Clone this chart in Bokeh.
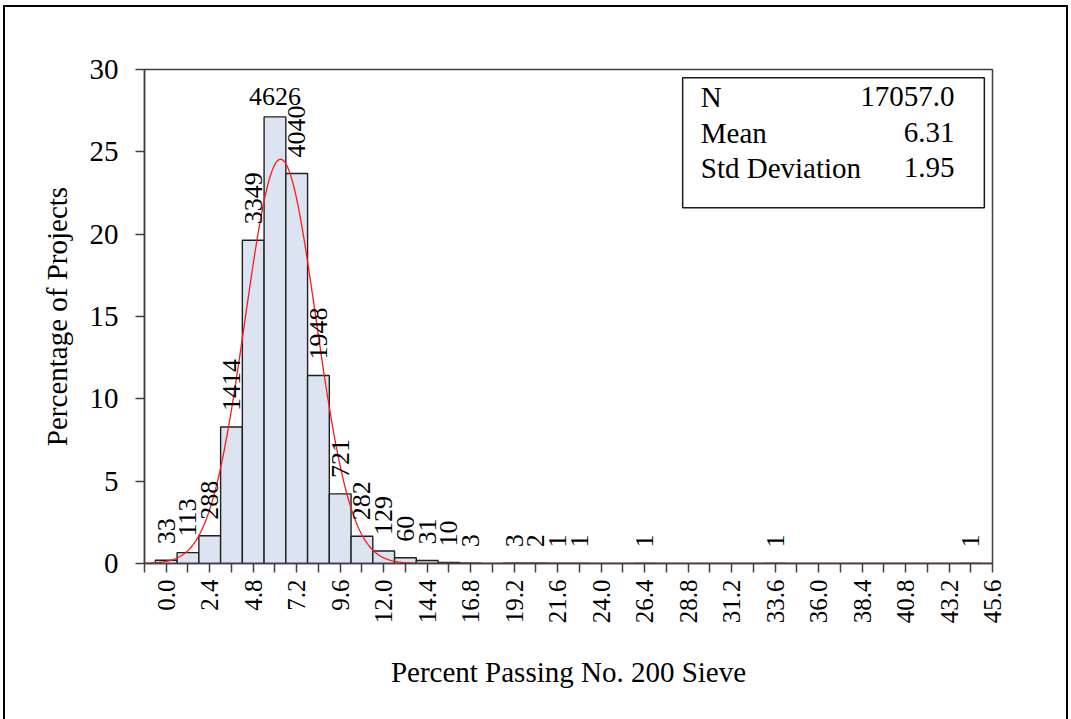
import math

import numpy as np
from bokeh.core.properties import value
from bokeh.embed import file_html
from bokeh.models import BoxAnnotation, ColumnDataSource, FixedTicker, Label, Range1d
from bokeh.plotting import figure
from bokeh.resources import INLINE

# Histogram of percent passing the No. 200 sieve (bin width 1.2)
BIN_CENTERS = [0.0, 1.2, 2.4, 3.6, 4.8, 6.0, 7.2, 8.4, 9.6, 10.8, 12.0, 13.2,
               14.4, 15.6, 16.8, 19.2, 20.4, 21.6, 22.8, 26.4, 33.6, 44.4]
COUNTS = [33, 113, 288, 1414, 3349, 4626, 4040, 1948, 721, 282, 129, 60,
          31, 10, 3, 3, 2, 1, 1, 1, 1, 1]
BIN_WIDTH = 1.2

# Summary statistics
N_OBS = 17057
MEAN = 6.31
STD_DEV = 1.95
STAT_NAMES = ["N", "Mean", "Std Deviation"]
STAT_VALUES = ["17057.0", "6.31", "1.95"]

# Axis ticks
X_TICKS = [0.0, 2.4, 4.8, 7.2, 9.6, 12.0, 14.4, 16.8, 19.2, 21.6, 24.0, 26.4,
           28.8, 31.2, 33.6, 36.0, 38.4, 40.8, 43.2, 45.6]
X_MINOR_TICKS = [-1.2, 1.2, 3.6, 6.0, 8.4, 10.8, 13.2, 15.6, 18.0, 20.4, 22.8,
                 25.2, 27.6, 30.0, 32.4, 34.8, 37.2, 39.6, 42.0, 44.4]
Y_TICKS = [0, 5, 10, 15, 20, 25, 30]

FONT = "Liberation Serif"
AXIS_COLOR = "#404040"

percent = [100.0 * c / N_OBS for c in COUNTS]
peak = int(np.argmax(COUNTS))

bars = ColumnDataSource(dict(x=BIN_CENTERS, top=percent,
                             label=[str(c) for c in COUNTS]))
rot_idx = [i for i in range(len(COUNTS)) if i != peak]
rot_labels = ColumnDataSource(dict(
    x=[BIN_CENTERS[i] for i in rot_idx],
    y=[percent[i] for i in rot_idx],
    label=[str(COUNTS[i]) for i in rot_idx],
))
top_label = ColumnDataSource(dict(x=[BIN_CENTERS[peak]], y=[percent[peak]],
                                  label=[str(COUNTS[peak])]))

p = figure(
    frame_width=848, frame_height=494,
    min_border_left=139, min_border_right=74,
    min_border_top=62, min_border_bottom=158,
    x_range=Range1d(-1.2, 45.6), y_range=Range1d(0, 30),
    output_backend="svg", toolbar_location=None,
    background_fill_color="white", border_fill_color="white",
)
p.styles = {
    "border-left": "2px solid black",
    "border-top": "2px solid black",
    "border-right": "2px solid black",
}
p.margin = (5, 0, 0, 3)

p.xgrid.visible = False
p.ygrid.visible = False
p.outline_line_color = AXIS_COLOR
p.outline_line_width = 1.5

# bars
p.vbar(x="x", top="top", bottom=0, width=BIN_WIDTH, source=bars,
       fill_color="#dbe4f0", line_color="#202020", line_width=1.4)

# fitted normal curve, scaled to percent per bin
xs = np.linspace(-1.2, 45.6, 800)
ys = 100.0 * BIN_WIDTH / (STD_DEV * math.sqrt(2 * math.pi)) * \
    np.exp(-0.5 * ((xs - MEAN) / STD_DEV) ** 2)
p.line(xs, ys, line_color="#ff1a1a", line_width=1.3)

# bar count labels
p.text(x="x", y="y", text="label", source=rot_labels, angle=math.pi / 2,
       text_align="left", text_baseline="middle", y_offset=-16,
       text_font=value(FONT), text_font_size="26px", text_color="black")
p.text(x="x", y="y", text="label", source=top_label,
       text_align="center", text_baseline="alphabetic", y_offset=-20,
       text_font=value(FONT), text_font_size="26px", text_color="black")

# statistics box
p.add_layout(BoxAnnotation(left=28.5, right=45.15, top=29.5, bottom=21.6,
                           fill_color="white", fill_alpha=1.0,
                           line_color="#1a1a1a", line_alpha=1.0,
                           line_width=1.5))
row_y = [28.36, 26.17, 24.04]
for name, val, yy in zip(STAT_NAMES, STAT_VALUES, row_y):
    p.add_layout(Label(x=29.5, y=yy, text=name, text_align="left",
                       text_baseline="middle", text_font=FONT,
                       text_font_size="29px", text_color="black"))
    p.add_layout(Label(x=43.5, y=yy, text=val, text_align="right",
                       text_baseline="middle", text_font=FONT,
                       text_font_size="29px", text_color="black"))

# axes
for ax in (p.xaxis[0], p.yaxis[0]):
    ax.axis_line_color = AXIS_COLOR
    ax.axis_line_width = 1.5
    ax.major_tick_line_color = AXIS_COLOR
    ax.major_tick_line_width = 1.5
    ax.minor_tick_line_color = AXIS_COLOR
    ax.minor_tick_line_width = 1.5
    ax.major_tick_in = 0
    ax.major_tick_out = 9
    ax.major_label_text_font = FONT
    ax.major_label_text_color = "black"
    ax.axis_label_text_font = FONT
    ax.axis_label_text_font_style = "normal"
    ax.axis_label_text_color = "black"
    ax.axis_label_text_font_size = "29px"

p.xaxis.ticker = FixedTicker(ticks=X_TICKS, minor_ticks=X_MINOR_TICKS)
p.xaxis.major_label_overrides = {t: f"{t:.1f}" for t in X_TICKS}
p.xaxis.major_label_orientation = math.pi / 2
p.xaxis.major_label_text_font_size = "25px"
p.xaxis.major_label_standoff = 7
p.xaxis.minor_tick_in = 0
p.xaxis.minor_tick_out = 9
p.xaxis.axis_label = "Percent Passing No. 200 Sieve"
p.xaxis.axis_label_standoff = 30

p.yaxis.ticker = FixedTicker(ticks=Y_TICKS, minor_ticks=[])
p.yaxis.major_label_text_font_size = "29px"
p.yaxis.major_label_standoff = 17
p.yaxis.minor_tick_out = 0
p.yaxis.axis_label = "Percentage of Projects"
p.yaxis.axis_label_standoff = 14

open("out.html", "w").write(file_html(p, INLINE))
